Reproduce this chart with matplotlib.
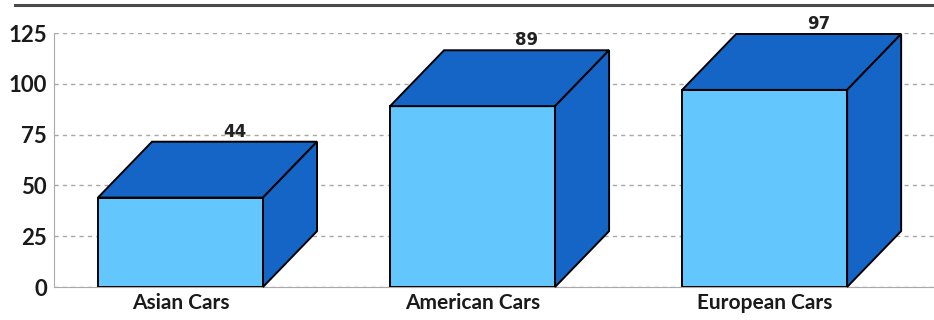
import matplotlib
matplotlib.use("Agg")
import matplotlib.pyplot as plt
from matplotlib.patches import Polygon
from matplotlib.lines import Line2D

categories = ["Asian Cars", "American Cars", "European Cars"]
values = [44, 89, 97]
yticks = [0, 25, 50, 75, 100, 125]

FRONT = "#63c6fd"
DARK = "#1565c6"
W = 0.565
DX = 0.185
DY = 27.5

fig = plt.figure(figsize=(9.34, 3.2), dpi=100)
ax = fig.add_axes([54/934, 33/320, 880/934, 254/320])
xs = list(range(len(categories)))

ax.set_axisbelow(True)
ax.yaxis.grid(True, linestyle=(0, (3, 3)), color="#a8a8a8", linewidth=1.0)
ax.bar(xs, values, width=W, color=FRONT, edgecolor="black", linewidth=1.4, zorder=3)
for x, v in zip(xs, values):
    l, r = x - W/2, x + W/2
    top = Polygon([(l, v), (r, v), (r + DX, v + DY), (l + DX, v + DY)], closed=True,
                  facecolor=DARK, edgecolor="black", linewidth=1.4, zorder=3, clip_on=False)
    side = Polygon([(r, 0), (r + DX, DY), (r + DX, v + DY), (r, v)], closed=True,
                   facecolor=DARK, edgecolor="black", linewidth=1.4, zorder=3, clip_on=False)
    ax.add_patch(top)
    ax.add_patch(side)
    ax.text(x + DX, v + DY + 0.5, str(v), ha="center", va="bottom", fontsize=12,
            family="DejaVu Sans", fontweight="bold", color="#222", zorder=5, clip_on=False)

ax.set_xlim(-0.433, 2.580)
ax.set_ylim(0, 125)
ax.set_yticks(yticks)
ax.set_yticklabels([str(t) for t in yticks], fontsize=16, family="Lato",
                   fontweight="bold", color="#1a1a1a")
ax.set_xticks(xs)
ax.set_xticklabels(categories, fontsize=15, family="Lato", fontweight="bold", color="#1a1a1a")
ax.tick_params(axis="y", length=0, pad=5)
ax.tick_params(axis="x", direction="in", length=3, color="#888", pad=4)
for s in ["top", "right"]:
    ax.spines[s].set_visible(False)
ax.spines["left"].set_color("#aaaaaa")
ax.spines["bottom"].set_color("#aaaaaa")

fig.add_artist(Line2D([15/934, 1.0], [1 - 5/320, 1 - 5/320], color="#4a4a4a", linewidth=2.2))

fig.savefig("out.png", dpi=100)
